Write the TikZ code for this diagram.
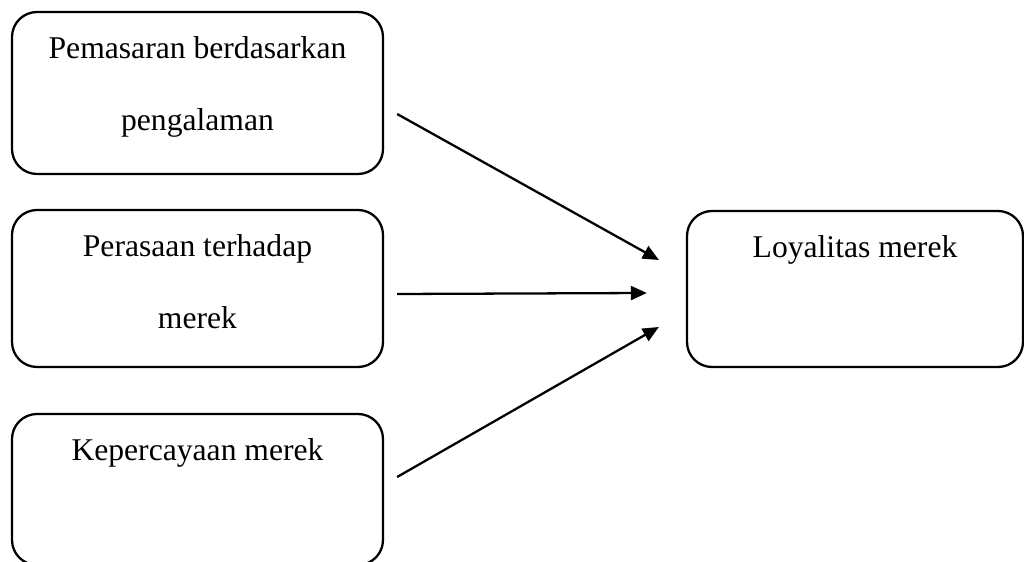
\documentclass[tikz,border=0pt]{standalone}
\usepackage{fontspec}
\setmainfont{Liberation Serif}
\usepackage{xcolor}
\usetikzlibrary{arrows.meta}
\definecolor{LineDark}{HTML}{000000}
\definecolor{TextDark}{HTML}{000000}

\tikzset{
  varbox/.style={draw=LineDark, line width=1.3pt, rounded corners=0.5cm, minimum width=7.42cm},
  vartext/.style={anchor=base, text=TextDark, font=\fontsize{18}{21}\selectfont, inner sep=0pt},
  flow/.style={-{Triangle[length=0.32cm,width=0.28cm]}, line width=1.3pt, color=LineDark}
}

\begin{document}
\begin{tikzpicture}
		% Draw the research model
		\useasboundingbox (0,0) rectangle (20.48,-11.24);
		\begin{scope}
		\clip (0,0) rectangle (20.48,-11.24);
		\node[varbox, minimum height=3.24cm] (pem) at (3.95,-1.86) {};
		\node[varbox, minimum height=3.14cm] (rasa) at (3.95,-5.77) {};
		\node[varbox, minimum height=3.02cm] (per) at (3.95,-9.79) {};
		\node[varbox, minimum width=6.72cm, minimum height=3.12cm] (loyal) at (17.1,-5.78) {};
		\end{scope}
		
		\node[vartext] (pemA) at ([yshift=-0.96cm]pem.north) {Pemasaran berdasarkan};
		\node[vartext] (pemB) at ([yshift=-2.40cm]pem.north) {pengalaman};
		\node[vartext] (rasaA) at ([yshift=-0.96cm]rasa.north) {Perasaan terhadap};
		\node[vartext] (rasaB) at ([yshift=-2.40cm]rasa.north) {merek};
		\node[vartext] (perA) at ([yshift=-0.96cm]per.north) {Kepercayaan merek};
		\node[vartext] (loyalA) at ([yshift=-0.96cm]loyal.north) {Loyalitas merek};
		
		\coordinate (inA) at ([xshift=-0.54cm,yshift=0.58cm]loyal.west);
		\coordinate (inB) at ([xshift=-0.78cm,yshift=-0.08cm]loyal.west);
		\coordinate (inC) at ([xshift=-0.54cm,yshift=-0.76cm]loyal.west);
		
		\draw[flow] ([xshift=0.26cm,yshift=-0.42cm]pem.east) -- (inA);
		\draw[flow] ([xshift=0.26cm,yshift=-0.11cm]rasa.east) -- (inB);
		\draw[flow] ([xshift=0.26cm,yshift=0.25cm]per.east) -- (inC);
	\end{tikzpicture}
\end{document}
